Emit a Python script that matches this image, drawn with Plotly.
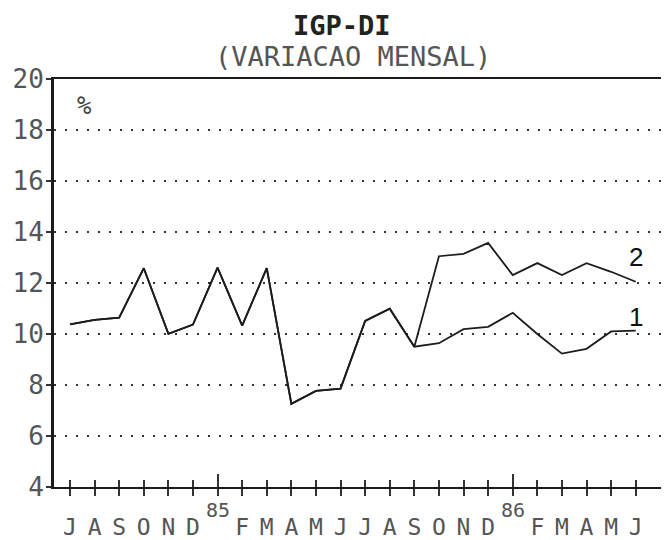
import plotly.graph_objects as go

# ---- data ----
periods = ["1984-07", "1984-08", "1984-09", "1984-10", "1984-11", "1984-12",
           "1985-01", "1985-02", "1985-03", "1985-04", "1985-05", "1985-06",
           "1985-07", "1985-08", "1985-09", "1985-10", "1985-11", "1985-12",
           "1986-01", "1986-02", "1986-03", "1986-04", "1986-05", "1986-06"]
month_letters = ["J", "F", "M", "A", "M", "J", "J", "A", "S", "O", "N", "D"]

serie_1 = [10.38, 10.55, 10.64, 12.58, 10.01, 10.37, 12.60, 10.33, 12.58, 7.26, 7.77, 7.86,
           10.51, 10.99, 9.50, 9.64, 10.19, 10.28, 10.83, 10.00, 9.23, 9.42, 10.10, 10.13]
serie_2 = [10.38, 10.55, 10.64, 12.58, 10.01, 10.37, 12.60, 10.33, 12.58, 7.26, 7.77, 7.86,
           10.51, 10.99, 9.50, 13.05, 13.14, 13.57, 12.31, 12.78, 12.31, 12.78, 12.44, 12.05]
series_labels = ["1", "2"]

y_ticks = [4, 6, 8, 10, 12, 14, 16, 18, 20]

title = "IGP-DI"
subtitle = "(VARIACAO MENSAL)"
unit = "%"

# ---- derived ----
x = list(range(len(periods)))
months = [int(p.split("-")[1]) for p in periods]
tick_text = ["" if m == 1 else month_letters[m - 1] for m in months]
jan_idx = [i for i, m in enumerate(months) if m == 1]
jan_years = [periods[i][2:4] for i in jan_idx]

MONO = "DejaVu Sans Mono"
INK = "#1c1c1c"
XR = [-0.65, 24.15]

fig = go.Figure()
for vals in (serie_2, serie_1):
    fig.add_trace(go.Scatter(x=x, y=vals, mode="lines",
                             line=dict(color=INK, width=1.8),
                             showlegend=False, hoverinfo="skip"))
# empty helper traces so the overlay tick axes get drawn
for ax in ("x2", "x3"):
    fig.add_trace(go.Scatter(x=[], y=[], xaxis=ax, yaxis="y", mode="lines",
                             showlegend=False, hoverinfo="skip"))

# the page body has an 8px margin: the figure is sized to fill the rest
fig.update_layout(
    width=661, height=532,
    margin=dict(l=46, r=5, t=71, b=53, autoexpand=False),
    paper_bgcolor="white", plot_bgcolor="white",
    showlegend=False,
    xaxis=dict(range=XR, tickmode="array", tickvals=x, ticktext=tick_text,
               ticks="outside", ticklen=7, tickwidth=1.5, tickcolor="#333",
               showline=True, linewidth=2, linecolor=INK, mirror=True,
               showgrid=False, zeroline=False, ticklabelstandoff=11,
               automargin=False,
               tickfont=dict(family=MONO, size=23, color="#555")),
    xaxis2=dict(range=XR, overlaying="x", anchor="y", side="bottom",
                tickmode="array", tickvals=x, ticks="inside", ticklen=7,
                tickwidth=1.5, tickcolor="#333", showticklabels=False,
                showline=False, showgrid=False, zeroline=False, automargin=False),
    xaxis3=dict(range=XR, overlaying="x", anchor="y", side="bottom",
                tickmode="array", tickvals=jan_idx, ticks="inside", ticklen=13,
                tickwidth=1.5, tickcolor="#333", showticklabels=False,
                showline=False, showgrid=False, zeroline=False, automargin=False),
    yaxis=dict(range=[4, 20], tickmode="array", tickvals=y_ticks,
               ticks="outside", ticklen=5, tickwidth=1.5, tickcolor="#333",
               showline=True, linewidth=3, linecolor=INK, mirror=True,
               showgrid=True, gridcolor="#333", gridwidth=1.5, griddash="2px,9px",
               zeroline=False, ticklabelstandoff=-3, automargin=False,
               tickfont=dict(family=MONO, size=26, color="#555")),
)

ann = []
ann.append(dict(text=f"<b>{title}</b>", xref="paper", yref="paper", x=0.472, y=1.13,
                xanchor="center", yanchor="middle", showarrow=False,
                font=dict(family=MONO, size=27, color="#222")))
ann.append(dict(text=subtitle, xref="paper", yref="paper", x=0.49, y=1.054,
                xanchor="center", yanchor="middle", showarrow=False,
                font=dict(family=MONO, size=27, color="#555")))
ann.append(dict(text=unit, xref="paper", yref="paper", x=0.05, y=0.934,
                xanchor="center", yanchor="middle", showarrow=False,
                font=dict(family=MONO, size=24, color="#444")))
for i, yr in zip(jan_idx, jan_years):
    ann.append(dict(text=yr, xref="x", yref="paper", x=i, y=0, yshift=-23,
                    xanchor="center", yanchor="middle", showarrow=False,
                    font=dict(family=MONO, size=20, color="#555")))
for lab, vals, dy in zip(series_labels, (serie_1, serie_2), (14, 25)):
    ann.append(dict(text=lab, xref="x", yref="y", x=x[-1], y=vals[-1], yshift=dy,
                    xanchor="center", yanchor="middle", showarrow=False,
                    font=dict(family="Liberation Sans", size=26, color="#111")))
fig.update_layout(annotations=ann)

fig.write_html("out.html")
